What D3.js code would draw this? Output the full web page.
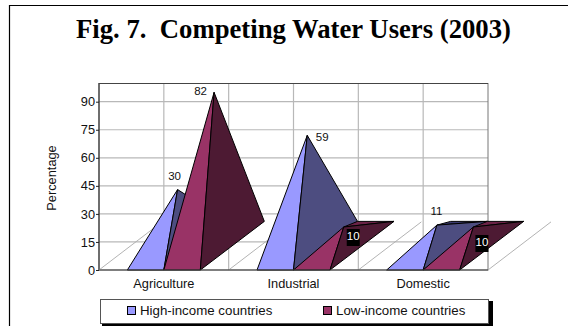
<!DOCTYPE html>
<html><head><meta charset="utf-8">
<script src="https://cdn.jsdelivr.net/npm/d3@7"></script>
<style>html,body{margin:0;padding:0;background:#fff}svg{display:block}</style>
</head><body><div id="c"></div>
<script>
const categories = ["Agriculture","Industrial","Domestic"];
const seriesNames = ["High-income countries","Low-income countries"];
const highIncome = [30,59,11];
const lowIncome = [82,10,10];
const yTicks = [0,15,30,45,60,75,90];
const title = "Fig. 7.  Competing Water Users (2003)";
const yTitle = "Percentage";

const W=568,H=326;
const svg=d3.select("#c").append("svg").attr("width",W).attr("height",H);
const sans="'Liberation Sans',Arial,sans-serif";
const col=[{front:"#9999ff",side:"#4d4d80",back:"#3b3b70"},{front:"#993366",side:"#4d1a33",back:"#6b2347"}];

// frame
svg.append("path").attr("d",`M9.5,326V5.5H${W}`).attr("fill","none").attr("stroke","#000").attr("stroke-width",1.2);
svg.append("text").attr("x",293.5).attr("y",38).attr("text-anchor","middle")
  .attr("font-family","'Liberation Serif','Times New Roman',serif").attr("font-weight","bold")
  .attr("font-size",26.7).attr("xml:space","preserve").style("white-space","pre").text(title);

const x0=d3.scaleBand().domain(categories).range([99,488]);
const y=d3.scaleLinear().domain([0,100]).range([270,83]);
const depth=y(0)-y(26);
const dx=64;

const g=svg.append("g");
// wall gridlines
yTicks.filter(d=>d>0).forEach(t=>g.append("line").attr("x1",99).attr("x2",488).attr("y1",y(t)).attr("y2",y(t)).attr("stroke","#b8b8b8").attr("stroke-width",1.2));
const vLines=d3.range(1,6).map(i=>99+x0.bandwidth()/2*i);
vLines.forEach(v=>g.append("line").attr("x1",v).attr("x2",v).attr("y1",83).attr("y2",270).attr("stroke","#b8b8b8").attr("stroke-width",1.2));
g.append("rect").attr("x",99).attr("y",83.5).attr("width",389).attr("height",186.5).attr("fill","none").attr("stroke","#777").attr("stroke-width",1);
g.append("line").attr("x1",99).attr("x2",99).attr("y1",83).attr("y2",270).attr("stroke","#222");
g.append("line").attr("x1",99).attr("x2",488).attr("y1",83.5).attr("y2",83.5).attr("stroke","#444");

// floor diagonals
[0,1,2,3].forEach(i=>{
  const b=99+x0.bandwidth()*i;
  g.append("line").attr("x1",b).attr("y1",270).attr("x2",b+dx-1).attr("y2",270-depth+0.5).attr("stroke","#aaa").attr("stroke-width",0.9);
});

// pyramids
const line=d3.line();
function pyramid(cat,val,s){
  const c=x0(cat)+x0.bandwidth()/2;
  const xl=s===0?c-36.5:c, xr=s===0?c:c+36.5;
  const base=y(0), bk=base-depth;
  const A=[(xl+xr)/2+dx/2, base-depth/2-(y(0)-y(val))];
  const FL=[xl,base],FR=[xr,base],BR=[xr+dx,bk],BL=[xl+dx,bk];
  const face=(pts,f)=>g.append("path").attr("d",line(pts)+"Z").attr("fill",f).attr("stroke","#000").attr("stroke-width",1).attr("stroke-linejoin","round");
  if(A[1]>bk) face([A,BL,BR],col[s].back);
  face([FL,A,FR],col[s].front);
  face([FR,A,BR],col[s].side);
}
categories.forEach((cat,i)=>pyramid(cat,highIncome[i],0));
categories.forEach((cat,i)=>pyramid(cat,lowIncome[i],1));

// baseline
g.append("line").attr("x1",99).attr("x2",488).attr("y1",270).attr("y2",270).attr("stroke","#444").attr("stroke-width",1.2);

// y axis
const ax=d3.axisLeft(y).tickValues(yTicks).tickSize(3).tickPadding(1);
const ag=svg.append("g").attr("transform","translate(99,0)").call(ax);
ag.select(".domain").remove();
ag.selectAll("line").attr("stroke","#222");
ag.selectAll("text").attr("font-family",sans).attr("font-size",12.8).attr("fill","#111");
svg.append("text").attr("transform","translate(56,178) rotate(-90)").attr("text-anchor","middle")
  .attr("font-family",sans).attr("font-size",12.8).attr("fill","#111").text(yTitle);
// x labels
categories.forEach(cat=>svg.append("text").attr("x",x0(cat)+x0.bandwidth()/2).attr("y",288).attr("text-anchor","middle")
  .attr("font-family",sans).attr("font-size",12.8).attr("fill","#111").text(cat));

// data labels
function lab(cat,val,s,ox,oy){
  const c=x0(cat)+x0.bandwidth()/2;
  const cx=(s===0?c-18.25:c+18.25)+dx/2;
  const ay=y(0)-depth/2-(y(0)-y(val));
  svg.append("text").attr("x",cx+ox).attr("y",ay+oy).attr("text-anchor","middle")
    .attr("font-family",sans).attr("font-size",11.5).attr("fill","#111").text(val);
}
lab(categories[0],highIncome[0],0,-3,-10);
lab(categories[0],lowIncome[0],1,-13.5,3);
lab(categories[1],highIncome[1],0,15,6);
lab(categories[2],highIncome[2],0,-0.5,-10);
function boxed(cat,val,ox,oy){
  const c=x0(cat)+x0.bandwidth()/2;
  const cx=c+18.25+dx/2, ay=y(0)-depth/2-(y(0)-y(val));
  svg.append("rect").attr("x",cx+ox-6.5).attr("y",ay+oy-9.5).attr("width",13).attr("height",17).attr("fill","#000");
  svg.append("text").attr("x",cx+ox).attr("y",ay+oy+2).attr("text-anchor","middle")
    .attr("font-family",sans).attr("font-size",11.5).attr("fill","#fff").text(val);
}
boxed(categories[1],lowIncome[1],9.5,11.5);
boxed(categories[2],lowIncome[2],8.5,17.5);

// legend
svg.append("rect").attr("x",102).attr("y",301).attr("width",391).attr("height",25).attr("fill","#000");
svg.append("rect").attr("x",100.5).attr("y",299.5).attr("width",388).attr("height",24).attr("fill","#fff").attr("stroke","#555");
const lx=[127,323];
seriesNames.forEach((n,i)=>{
  svg.append("rect").attr("x",lx[i]+.5).attr("y",306.5).attr("width",8).attr("height",8).attr("fill",col[i].front).attr("stroke","#000");
  svg.append("text").attr("x",lx[i]+13).attr("y",314.5).attr("font-family",sans).attr("font-size",13.3).attr("fill","#111").text(n);
});
</script></body></html>
